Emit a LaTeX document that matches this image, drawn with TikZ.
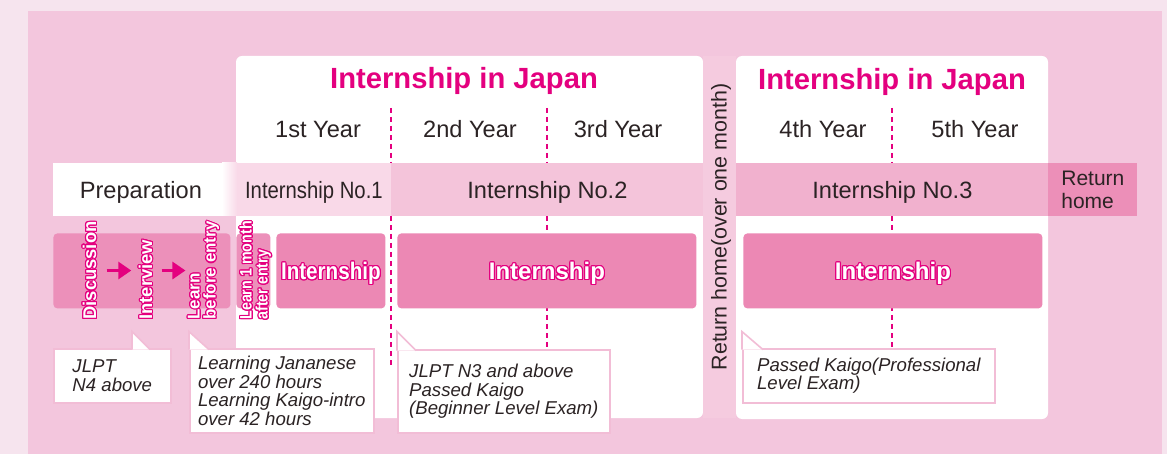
\documentclass[tikz,border=0pt]{standalone}
\usepackage{fontspec}
\setmainfont{Liberation Sans}
\newfontfamily\narrowfont[FakeStretch=0.86]{Liberation Sans}
\usepackage[copies]{contour}
\contourlength{0.55pt}
\usetikzlibrary{arrows.meta}

\definecolor{mag}{HTML}{E4007F}
\definecolor{txt}{HTML}{2B2324}
\definecolor{outerbg}{HTML}{F6E4EE}
\definecolor{innerbg}{HTML}{F3C6DD}
\definecolor{stripbg}{HTML}{F5CBDF}
\definecolor{band1}{HTML}{F9D9E8}
\definecolor{band2}{HTML}{F4C4DA}
\definecolor{band3}{HTML}{F1B1CE}
\definecolor{retpink}{HTML}{EC8FB8}
\definecolor{boxpink}{HTML}{EC88B4}
\definecolor{prepbox}{HTML}{EC90BA}
\definecolor{glow}{HTML}{F2BDD6}

\begin{document}
\begin{tikzpicture}[x=0.5pt,y=-0.5pt,
	title/.style={font=\fontsize{14.6}{17}\selectfont\bfseries, text=mag, anchor=base},
	yeartxt/.style={font=\fontsize{11.8}{14}\selectfont, text=txt, anchor=base},
	yearline/.style={draw=mag, line width=1pt, dash pattern=on 2.5pt off 2pt},
	band/.style={anchor=north west, minimum height=26.5pt, inner sep=0pt, text depth=0pt, font=\fontsize{11.8}{14}\selectfont, text=txt},
	intbox/.style={anchor=north west, rounded corners=2pt, fill=boxpink, minimum height=37.5pt, inner sep=0pt, text depth=0pt, text=white, font=\fontsize{12}{14}\selectfont\bfseries},
	vtxt/.style={rotate=90, anchor=west, inner sep=0pt, text=white, align=left},
	flow/.style={draw=mag, line width=1.5pt, -{Triangle[length=6.5pt,width=8.5pt]}},
	callout/.style={anchor=north west, fill=white, draw=glow, line width=0.8pt, inner sep=0pt, align=left, font=\fontsize{9.3}{9.3}\selectfont\itshape, text=txt},
	tail/.style={fill=white, draw=glow, line width=0.8pt}
	]
		\useasboundingbox (0,0) rectangle (1167,454);
		\fill[outerbg] (0,0) rectangle (1167,454);
		\fill[innerbg] (28,11) rectangle (1162,454);
		
		% panels
		\fill[white, rounded corners=3pt] (236,56) rectangle (703,418);
		\fill[white, rounded corners=3pt] (736,56) rectangle (1048,419);
		
		\node [title] (ttl1) at (464,89) {Internship in Japan};
		\node [title] (ttl2) at (892,90) {Internship in Japan};
		
		\node [yeartxt] (y1) at (318,138) {1st Year};
		\node [yeartxt] (y2) at (470,138) {2nd Year};
		\node [yeartxt] (y3) at (618,138) {3rd Year};
		\node [yeartxt] (y4) at (823,138) {4th Year};
		\node [yeartxt] (y5) at (975,138) {5th Year};
		
		\draw [yearline] (391,108) -- (391,368);
		\draw [yearline] (547,108) -- (547,368);
		\draw [yearline] (892,108) -- (892,368);
		
		% band
		\node [band, fill=white, minimum width=87.5pt] (prep) at (53,163) {Preparation};
		\node [band, fill=band1, minimum width=77.5pt, font=\narrowfont\fontsize{11.8}{14}\selectfont] (no1) at (236,163) {Internship No.1};
		\shade [left color=white, right color=band1] (222,163) rectangle (237,216);
		\node [band, fill=band2, minimum width=156pt] (no2) at (391,163) {Internship No.2};
		\node [band, fill=band3, minimum width=156pt] (no3) at (736,163) {Internship No.3};
		\node [band, fill=retpink, minimum width=44.5pt, text depth=, align=left, font=\fontsize{10.5}{11.5}\selectfont] (ret) at (1048,163) {Return\\home};
		
		\fill[stripbg] (703,56) rectangle (736,418);
		\node [rotate=90, text=txt, inner sep=0pt, font=\fontsize{10.7}{12}\selectfont] (away) at (721,227) {Return home(over one month)};
		
		% boxes
		\node [intbox, fill=prepbox, minimum width=88.5pt] (prepbox) at (53,233) {};
		\node [intbox, fill=prepbox, minimum width=17pt] (lbox) at (236,233) {};
		\node [intbox, minimum width=54.5pt, font=\narrowfont\fontsize{12}{14}\selectfont\bfseries] (int1) at (276,233) {\contour{mag}{Internship}};
		\node [intbox, minimum width=149.5pt] (int2) at (397,233) {\contour{mag}{Internship}};
		\node [intbox, minimum width=149.5pt] (int3) at (743,233) {\contour{mag}{Internship}};
		
		\node [vtxt, font=\fontsize{9.2}{9}\selectfont\bfseries] (disc) at (90,320) {\contour{mag}{Discussion}};
		\node [vtxt, font=\fontsize{9.2}{9}\selectfont\bfseries] (intv) at (146,320) {\contour{mag}{Interview}};
		\node [vtxt, font=\fontsize{8.5}{8}\selectfont\bfseries] (learn) at (204,320) {\contour{mag}{Learn}\\\contour{mag}{before entry}};
		\node [vtxt, font=\narrowfont\fontsize{8.3}{8}\selectfont\bfseries] (after) at (256,320) {\contour{mag}{Learn 1 month}\\\contour{mag}{after entry}};
		
		\draw [flow, shorten <=4.5pt, shorten >=3.5pt] (disc.south) -- (disc.south -| intv.north);
		\draw [flow, shorten <=4pt, shorten >=1pt] (intv.south |- disc.south) -- (disc.south -| learn.north);
		
		% callouts
		\node [callout, minimum width=58.5pt, minimum height=27pt] (c1) at (53,348) {JLPT\\N4 above};
		\filldraw [tail] ([xshift=39.5pt,yshift=-0.8pt]c1.north west) -- ++(0,-18) -- ++(18,18);
		\node [callout, minimum width=92pt, minimum height=42pt] (c2) at (189,348) {Learning Jananese\\over 240 hours\\Learning Kaigo-intro\\over 42 hours};
		\filldraw [tail] ([yshift=-0.8pt]c2.north west) -- ++(0,-18) -- ++(20,18);
		\node [callout, minimum width=106pt, minimum height=41.5pt] (c3) at (397,349) {JLPT N3 and above\\Passed Kaigo\\(Beginner Level Exam)};
		\filldraw [tail] ([yshift=-0.8pt]c3.north west) -- ++(0,-19) -- ++(19,19);
		\node [callout, minimum width=126pt, minimum height=27pt] (c4) at (742,348) {Passed Kaigo(Professional\\Level Exam)};
		\filldraw [tail] ([yshift=-0.8pt]c4.north west) -- ++(0,-18) -- ++(21,18);
\end{tikzpicture}
\end{document}
